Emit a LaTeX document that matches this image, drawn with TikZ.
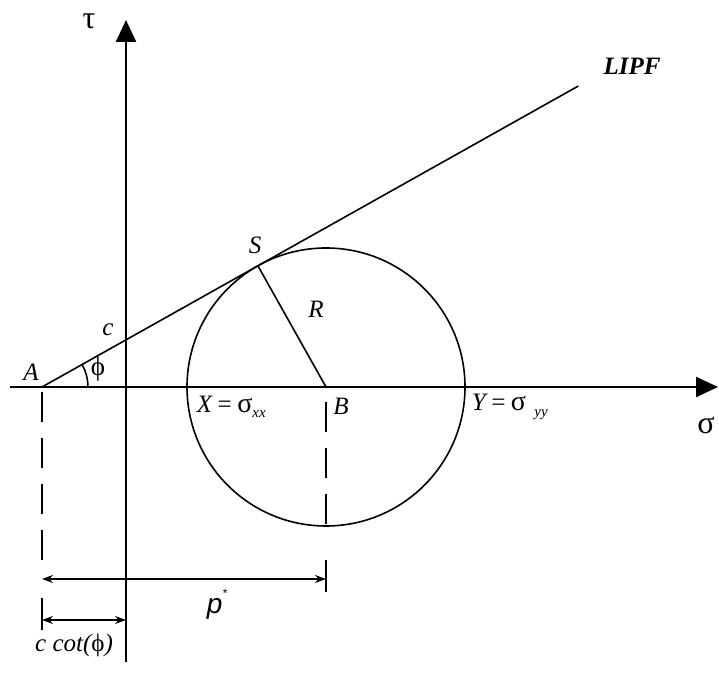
\documentclass[tikz,border=0pt]{standalone}
\usepackage{fontspec}
\setmainfont{Liberation Serif}
\setsansfont{Liberation Sans}
\usepackage{tikz}
\usetikzlibrary{arrows.meta,calc}

\begin{document}
\begin{tikzpicture}[x=1pt,y=1pt,line width=1.6pt,
  axis/.style={line width=2.4pt,-{Triangle[length=22pt,width=20pt]}},
  guide/.style={dash pattern=on 30pt off 16pt},
  dim/.style={{Stealth[length=11pt,width=8pt]}-{Stealth[length=11pt,width=8pt]}},
  lab/.style={font=\fontsize{25}{28}\selectfont\itshape},
  greek/.style={font=\fontsize{32}{34}\selectfont}]
  \useasboundingbox (0,0) rectangle (719,690);
  \def\r{139}
  \def\phideg{29.3}
  % points
  \coordinate (A) at (42,303);
  \coordinate (O) at (126,303);
  \coordinate (B) at (326,303);
  \coordinate (S) at ($(A)+(\phideg:247.6)$);
  \coordinate (L) at ($(A)+(\phideg:615)$);
  % axes
  \draw[axis] (10,303) -- (718,303);
  \draw[axis] (126,28) -- (126,670);
  % circle, failure line, radius
  \draw (B) circle (\r);
  \draw (A) -- (L);
  \draw (B) -- (S);
  \draw (A) ++(46,0) arc[start angle=0,end angle=\phideg,radius=46];
  % guides and dimensions
  \draw[guide] (42,298) -- (42,122);
  \draw[guide] (326,288) -- (326,163);
  \draw (42,92) -- (42,60);
  \draw (326,130) -- (326,98);
  \draw[dim] (42,111) -- (326,111);
  \draw[dim] (42,70) -- (126,70);
  % labels
  \node[greek] at (89,669) {τ};
  \node[greek] at (706,265) {σ};
  \node[lab] at (31,318) {A};
  \node[lab,font=\fontsize{27}{28}\selectfont] at (98,321) {ϕ};
  \node[lab] at (108,360) {c};
  \node[lab] at (255,445) {S};
  \node[lab] at (316,381) {R};
  \node[lab] at (341,284) {B};
  \node[lab,font=\fontsize{25}{28}\selectfont\bfseries\itshape] at (632,624) {LIPF};
  \node[lab,anchor=west,inner sep=0pt] at (196,283) {X\,=\,{\fontsize{28}{28}\selectfont\upshape σ}\raisebox{-0.4ex}{\fontsize{15}{15}\selectfont\itshape xx}};
  \node[lab,anchor=west,inner sep=0pt] at (471,283) {Y\,=\,{\fontsize{28}{28}\selectfont\upshape σ}\,\,\raisebox{-0.5ex}{\fontsize{15}{15}\selectfont\itshape yy}};
  \node[lab,font=\fontsize{28}{28}\selectfont\sffamily\itshape] at (217,86) {p\raisebox{1.1ex}{\fontsize{12}{12}\selectfont *}};
  \node[lab] at (74,45) {c cot(\upshape ϕ\itshape)};
\end{tikzpicture}
\end{document}
